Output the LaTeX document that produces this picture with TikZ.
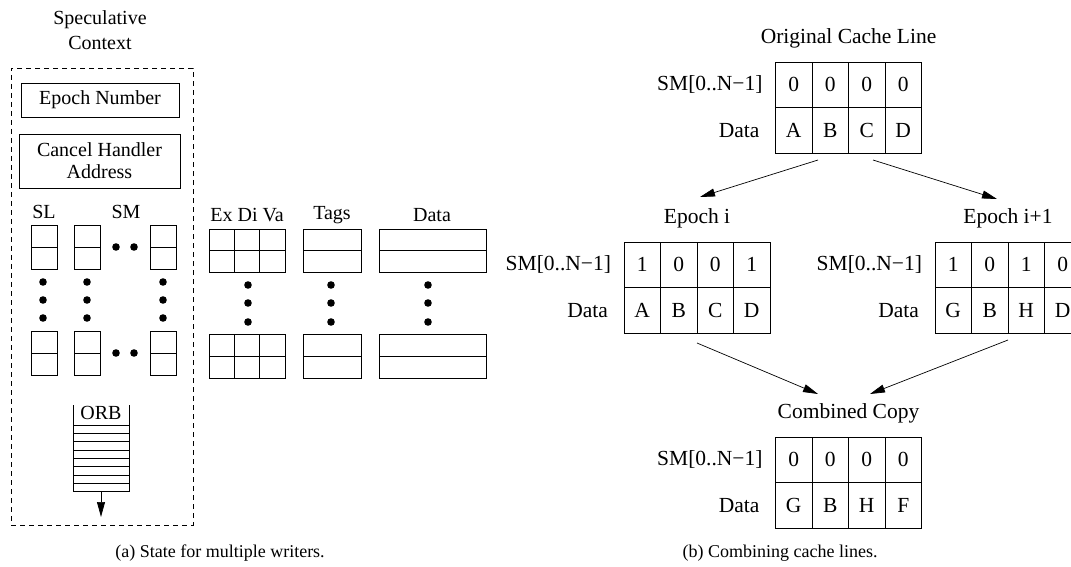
\documentclass[tikz,border=0pt]{standalone}
\usepackage{fontspec}
\setmainfont{Liberation Serif}
\usetikzlibrary{arrows.meta,calc}
\newcommand{\cachetab}[6]{%
 \node[lblb] (#1-t) at ({#2+73},{#3-24}) {#4};
 \foreach \v [count=\ci] in {#5} \node[cell] (#1-s\ci) at ({#2+(\ci-0.5)*36.5},{#3+22.75}) {\v};
 \foreach \v [count=\ci] in {#6} \node[cell] (#1-d\ci) at ({#2+(\ci-0.5)*36.5},{#3+68.25}) {\v};
 \node[lblb, anchor=east] (#1-sl) at ({#2-13},{#3+22.75}) {SM[0..N−1]};
 \node[lblb, anchor=east] (#1-dl) at ({#2-16},{#3+68.25}) {Data};
}
\begin{document}
\begin{tikzpicture}[x=1pt,y=-1pt,
  every node/.style={inner sep=0pt, outer sep=0pt},
  lbla/.style={font=\fontsize{20}{25}\selectfont},
  lblb/.style={font=\fontsize{21.5}{26}\selectfont},
  capt/.style={font=\fontsize{18}{22}\selectfont},
  ln/.style={line width=0.9pt},
  box/.style={draw, line width=0.9pt},
  midline/.style={path picture={\draw[line width=0.9pt] (path picture bounding box.west) -- (path picture bounding box.east);}},
  sbox/.style={box, midline, minimum width=26pt, minimum height=44pt},
  gcell/.style={box, minimum width=25.33pt, minimum height=21.5pt},
  cell/.style={draw, line width=0.9pt, minimum width=36.5pt, minimum height=45.5pt, lblb},
  arr/.style={line width=0.7pt, -{Triangle[length=15pt,width=8pt]}},
]
\useasboundingbox (0,0) rectangle (1071,567);
\clip (0,0) rectangle (1071,567);

% ---------- (a) ----------
\node[lbla, align=center] (spec) at (100,30) {Speculative\\Context};
\node[draw, dash pattern=on 5pt off 4pt, line width=0.8pt, minimum width=182pt, minimum height=457pt] (ctx) at (102,296.5) {};
\node[box, lbla, minimum width=158pt, minimum height=34pt] (epn) at (100,100) {Epoch Number};
\node[box, font=\fontsize{20}{22}\selectfont, align=center, minimum width=161pt, minimum height=54pt] (chaddr) at (99.5,161) {Cancel Handler\\Address};

\node[lbla] (sllbl) at (44,212) {SL};
\node[lbla] (smlbl) at (126,212) {SM};
\node[sbox] (sl1) at (44,247) {};
\node[sbox] (sm1) at (87,247) {};
\node[sbox] (smn1) at (163,247) {};
\node[sbox] (sl2) at (44,353) {};
\node[sbox] (sm2) at (87,353) {};
\node[sbox] (smn2) at (163,353) {};
\foreach \x in {43,87,163} \foreach \y in {282,300,318} \fill (\x,\y) circle (3.8pt);
\foreach \x in {116,134} \foreach \y in {247,353} \fill (\x,\y) circle (3.8pt);

% ORB
\draw[ln] (73,405) -- (73,492);
\draw[ln] (129,405) -- (129,492);
\foreach \k in {0,...,8} \draw[ln] (73,{425+\k*8.33}) -- (129,{425+\k*8.33});
\node[lbla] (orb) at (101,413) {ORB};
\coordinate (orbbot) at (101,492);
\coordinate (orbout) at (101,517);
\draw[arr] (orbbot) -- (orbout);

% Ex Di Va / Tags / Data
\node[lbla] (exlbl) at (247,215) {Ex Di Va};
\node[lbla] (tglbl) at (332,215) {Tags};
\node[lbla] (dtlbl) at (432,215) {Data};
\foreach \c in {1,2,3} \foreach \r in {1,2} {
  \node[gcell] (f\c\r) at ({209+(\c-0.5)*25.33},{229+(\r-0.5)*21.5}) {};
  \node[gcell, minimum height=22pt] (g\c\r) at ({209+(\c-0.5)*25.33},{334+(\r-0.5)*22}) {};
}
\node[box, midline, minimum width=58pt, minimum height=43pt] (tag1) at (332,250.5) {};
\node[box, midline, minimum width=58pt, minimum height=44pt] (tag2) at (332,356) {};
\node[box, midline, minimum width=107pt, minimum height=43pt] (dat1) at (432.5,250.5) {};
\node[box, midline, minimum width=107pt, minimum height=44pt] (dat2) at (432.5,356) {};
\foreach \x in {248,331,428} \foreach \y in {285,303,322} \fill (\x,\y) circle (3.8pt);

\node[capt] (capa) at (220,553) {(a) State for multiple writers.};

% ---------- (b) ----------
\cachetab{orig}{775.5}{62}{Original Cache Line}{0,0,0,0}{A,B,C,D}
\cachetab{ei}{624}{242}{Epoch i}{1,0,0,1}{A,B,C,D}
\cachetab{ej}{935}{242}{Epoch i+1}{1,0,1,0}{G,B,H,D}
\cachetab{comb}{775.5}{437}{Combined Copy}{0,0,0,0}{G,B,H,F}

\coordinate (a1s) at ($(orig-d2.south west)+(6,7)$);
\coordinate (a1e) at (700,197);
\coordinate (a2s) at ($(orig-d3.south east)+(-12,7)$);
\coordinate (a2e) at (997,199);
\coordinate (a3s) at ($(ei-d2.south east)+(0,10)$);
\coordinate (a3e) at (818,394);
\coordinate (a4s) at ($(ej-d2.south east)+(0,7)$);
\coordinate (a4e) at (870,394);
\draw[arr] (a1s) -- (a1e);
\draw[arr] (a2s) -- (a2e);
\draw[arr] (a3s) -- (a3e);
\draw[arr] (a4s) -- (a4e);

\node[capt] (capb) at (780,553) {(b) Combining cache lines.};
\end{tikzpicture}
\end{document}
